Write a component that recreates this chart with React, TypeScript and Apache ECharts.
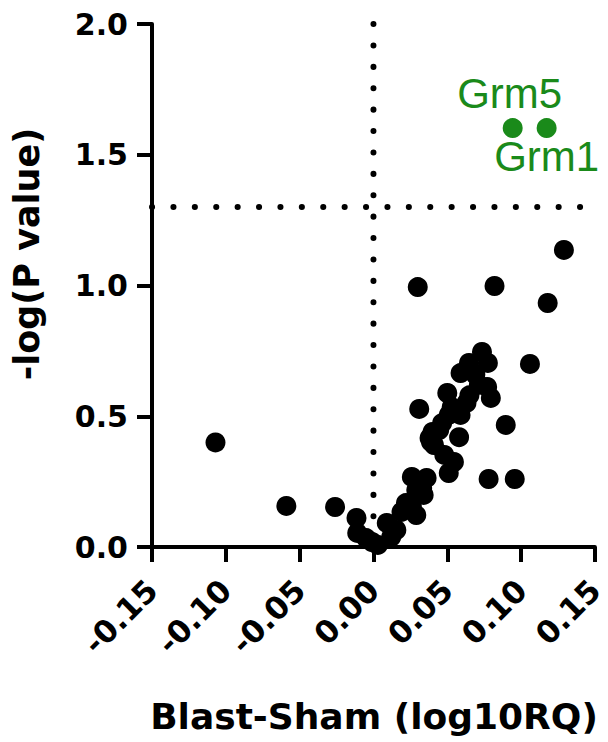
import React, { useEffect, useRef } from "react";
import * as echarts from "echarts";

// Blast-Sham log10 RQ (x) vs -log(P value) (y)
const geneX: number[] = [
  -0.107, -0.059, -0.026, -0.0115, -0.011, -0.005, -0.001, 0.003, 0.009, 0.012,
  0.0155, 0.019, 0.022, 0.026, 0.029, 0.026, 0.029, 0.033, 0.034, 0.036,
  0.030, 0.031, 0.039, 0.041, 0.038, 0.040, 0.048, 0.0545, 0.051, 0.0465,
  0.051, 0.053, 0.050, 0.059, 0.0647, 0.0735, 0.0775, 0.0714, 0.077, 0.0795,
  0.063, 0.059, 0.058, 0.0896, 0.078, 0.0957, 0.106, 0.082, 0.118, 0.129,
  0.065, 0.069, 0.0445,
];
const geneY: number[] = [
  0.40, 0.157, 0.153, 0.111, 0.054, 0.034, 0.019, 0.008, 0.092, 0.038,
  0.065, 0.134, 0.168, 0.157, 0.122, 0.268, 0.218, 0.226, 0.199, 0.264,
  0.994, 0.528, 0.402, 0.39, 0.417, 0.44, 0.352, 0.325, 0.283, 0.474,
  0.505, 0.535, 0.589, 0.665, 0.704, 0.746, 0.704, 0.62, 0.612, 0.57,
  0.551, 0.505, 0.42, 0.467, 0.26, 0.26, 0.70, 0.998, 0.933, 1.136,
  0.58, 0.66, 0.447,
];

const sigNames: string[] = ["Grm5", "Grm1"];
const sigX: number[] = [0.0943, 0.1173];
const sigY: number[] = [1.602, 1.602];

const xTicks: number[] = [-0.15, -0.1, -0.05, 0, 0.05, 0.1, 0.15];
const yTicks: number[] = [0, 0.5, 1.0, 1.5, 2.0];
const pThreshold = 1.3; // -log10(0.05)
const fcThreshold = 0;

const BOLD_FONT = "'DejaVu Sans', sans-serif";
const GREEN = "#1a8a1a";

export default function App() {
  const ref = useRef<HTMLDivElement>(null);

  useEffect(() => {
    document.body.style.margin = "0";
    if (!ref.current) return;
    const chart = echarts.init(ref.current, undefined, { renderer: "svg" });
    const xMin = xTicks[0];
    const xMax = xTicks[xTicks.length - 1];
    const yMin = yTicks[0];
    const yMax = yTicks[yTicks.length - 1];
    const dotted = {
      color: "#000",
      width: 6,
      type: [0.1, 21.3] as number[],
      cap: "round" as const,
    };
    chart.setOption({
      animation: false,
      backgroundColor: "#fff",
      grid: { left: 152, right: 11, top: 24, bottom: 195, containLabel: false },
      xAxis: {
        type: "value",
        min: xMin,
        max: xMax,
        interval: 0.05,
        axisLine: { show: true, onZero: false, lineStyle: { color: "#000", width: 4 } },
        axisTick: { show: true, length: 15, lineStyle: { color: "#000", width: 4 } },
        splitLine: { show: false },
        axisLabel: {
          rotate: 45,
          margin: 38,
          color: "#000",
          fontSize: 31,
          fontWeight: "bold",
          fontFamily: BOLD_FONT,
          formatter: (v: number) => (Math.abs(v) < 1e-9 ? 0 : v).toFixed(2),
        },
      },
      yAxis: {
        type: "value",
        min: yMin,
        max: yMax,
        interval: 0.5,
        axisLine: { show: true, onZero: false, lineStyle: { color: "#000", width: 4 } },
        axisTick: { show: true, length: 15, lineStyle: { color: "#000", width: 4 } },
        splitLine: { show: false },
        axisLabel: {
          margin: 24,
          color: "#000",
          fontSize: 30,
          fontWeight: "bold",
          fontFamily: BOLD_FONT,
          formatter: (v: number) => v.toFixed(1),
        },
      },
      graphic: [
        {
          type: "text",
          x: 27,
          y: 254,
          rotation: Math.PI / 2,
          style: {
            text: "-log(P value)",
            fill: "#000",
            fontSize: 35,
            fontWeight: "bold",
            fontFamily: BOLD_FONT,
            align: "center",
            verticalAlign: "middle",
          },
        },
        {
          type: "text",
          x: 374,
          y: 716,
          style: {
            text: "Blast-Sham (log10RQ)",
            fill: "#000",
            fontSize: 36,
            fontWeight: "bold",
            fontFamily: BOLD_FONT,
            align: "center",
            verticalAlign: "middle",
          },
        },
      ],
      series: [
        {
          type: "line",
          data: [
            [xMin, pThreshold],
            [xMax, pThreshold],
          ],
          symbol: "none",
          lineStyle: dotted,
          silent: true,
          z: 1,
        },
        {
          type: "line",
          data: [
            [fcThreshold, yMax],
            [fcThreshold, yMin],
          ],
          symbol: "none",
          lineStyle: dotted,
          silent: true,
          z: 1,
        },
        {
          type: "scatter",
          symbol: "circle",
          symbolSize: 20,
          itemStyle: { color: "#000", opacity: 1 },
          data: geneX.map((x, i) => [x, geneY[i]]),
          z: 3,
        },
        {
          type: "scatter",
          symbol: "circle",
          symbolSize: 20,
          itemStyle: { color: GREEN, opacity: 1 },
          data: sigX.map((x, i) => ({
            value: [x, sigY[i]],
            name: sigNames[i],
            label: {
              show: true,
              formatter: sigNames[i],
              position: i === 0 ? "top" : "bottom",
              distance: i === 0 ? 3 : -4,
              color: GREEN,
              fontSize: 42,
              lineHeight: 44,
              fontFamily: "'Liberation Sans', Arial, sans-serif",
              offset: i === 0 ? [-3, 0] : [0, 0],
            },
          })),
          z: 4,
        },
      ],
    });
    return () => chart.dispose();
  }, []);

  return <div ref={ref} style={{ width: 608, height: 742 }} />;
}
